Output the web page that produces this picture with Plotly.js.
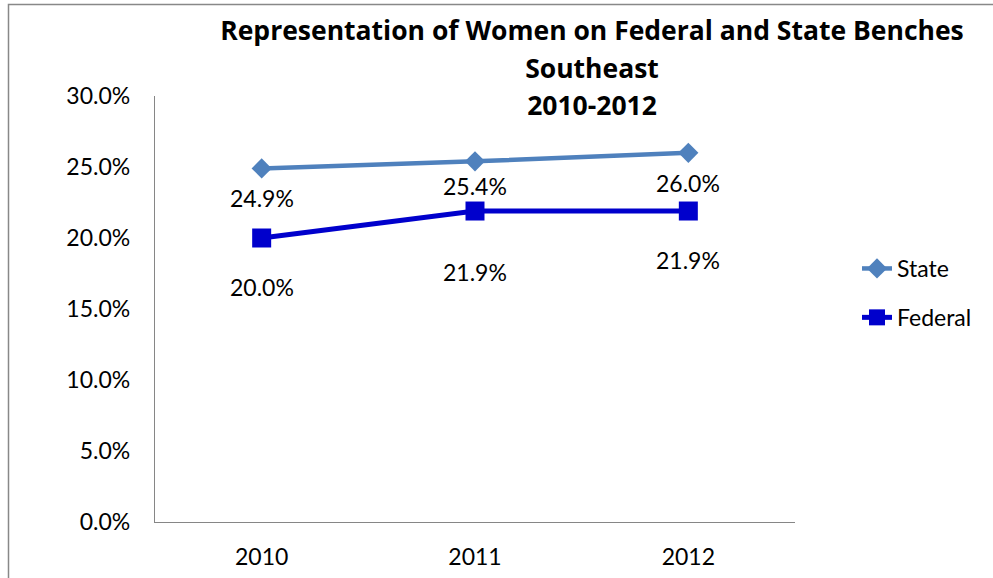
<!DOCTYPE html>
<html>
<head>
<meta charset="utf-8">
<script src="https://cdn.plot.ly/plotly-3.0.1.min.js"></script>
<style>
  html, body { margin: 0; padding: 0; background: #fff; }
  #chart { width: 993px; height: 578px; }
</style>
</head>
<body>
<div id="chart"></div>
<script>
// ---- Data ----
var years = ['2010', '2011', '2012'];
var stateValues = [0.249, 0.254, 0.260];
var federalValues = [0.200, 0.219, 0.219];
var seriesNames = ['State', 'Federal'];
var titleLines = ['Representation of Women on Federal and State Benches', 'Southeast', '2010-2012'];

// ---- Label placement (style only, pixels below the point) ----
var stateLabelShift = [-30, -25, -30];
var federalLabelShift = [-49, -61, -49];

var FONT = 'Lato, "Open Sans", "Noto Sans", sans-serif';
var TITLE_FONT = '"Open Sans", Lato, sans-serif';
var TXT = 23;
var axisGray = '#868686';
var stateColor = '#4F81BD';
var federalColor = '#0000CC';

var W = 993, H = 578;
var M = { l: 155, r: 198, t: 96, b: 56 };
var pw = W - M.l - M.r, ph = H - M.t - M.b;
function px2x(p) { return (p - M.l) / pw; }
function py2y(p) { return (H - M.b - p) / ph; }

var traces = [
  {
    type: 'scatter', mode: 'lines+markers', name: seriesNames[0],
    x: years, y: stateValues, legendgroup: 'a',
    line: { color: stateColor, width: 4.5 },
    marker: { symbol: 'diamond', size: 15.5, color: stateColor },
    hoverinfo: 'skip'
  },
  {
    type: 'scatter', mode: 'lines+markers', name: seriesNames[1],
    x: years, y: federalValues, legendgroup: 'b',
    line: { color: federalColor, width: 5 },
    marker: { symbol: 'square', size: 19, color: federalColor },
    hoverinfo: 'skip'
  }
];

var labelAnnotations = [];
function addLabels(vals, shifts) {
  for (var i = 0; i < vals.length; i++) {
    labelAnnotations.push({
      x: i, y: vals[i], xref: 'x', yref: 'y',
      text: (vals[i] * 100).toFixed(1) + '%',
      showarrow: false, yshift: shifts[i], xanchor: 'center', yanchor: 'middle',
      font: { family: FONT, size: TXT, color: '#000000' }
    });
  }
}
addLabels(stateValues, stateLabelShift);
addLabels(federalValues, federalLabelShift);

var layout = {
  width: W, height: H,
  margin: M,
  paper_bgcolor: '#fff', plot_bgcolor: '#fff',
  font: { family: FONT, size: TXT, color: '#000' },
  title: {
    text: titleLines.map(function (s) { return '<span style="font-size:26.5px">' + s + '</span>'; }).join('<br>'),
    font: { family: TITLE_FONT, size: 29, color: '#000', weight: 'bold' },
    x: 592 / W, xref: 'container', xanchor: 'center',
    y: 1 - 40 / H, yref: 'container', yanchor: 'top'
  },
  xaxis: {
    type: 'category', range: [-0.5, 2.5],
    showline: true, linecolor: axisGray, linewidth: 1.3,
    showgrid: false, zeroline: false, ticks: '',
    ticklabelstandoff: 14,
    tickfont: { family: FONT, size: TXT, color: '#000' },
    fixedrange: true
  },
  yaxis: {
    range: [0, 0.30], dtick: 0.05, tickformat: '.1%',
    showline: true, linecolor: axisGray, linewidth: 1.3,
    showgrid: false, zeroline: false, ticks: '',
    ticklabelstandoff: 19,
    tickfont: { family: FONT, size: TXT, color: '#000' },
    fixedrange: true
  },
  showlegend: true,
  legend: {
    x: px2x(857), xanchor: 'left', y: py2y(247), yanchor: 'top',
    traceorder: 'grouped', tracegroupgap: 16,
    font: { family: FONT, size: TXT, color: '#000' },
    bgcolor: 'rgba(0,0,0,0)'
  },
  annotations: labelAnnotations,
  shapes: [{
    type: 'rect', xref: 'paper', yref: 'paper',
    x0: px2x(8.5), x1: px2x(1010), y0: py2y(600), y1: py2y(4.5),
    line: { color: '#888', width: 1.5 }, fillcolor: 'rgba(0,0,0,0)', layer: 'below'
  }]
};

Plotly.newPlot('chart', traces, layout, { displayModeBar: false });
</script>
</body>
</html>
